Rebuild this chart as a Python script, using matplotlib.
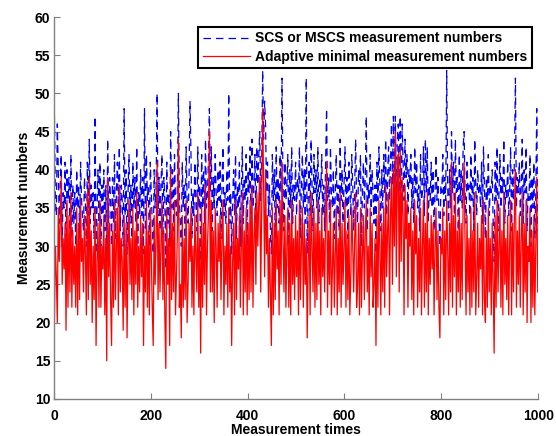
import numpy as np
import matplotlib

matplotlib.use("Agg")
import matplotlib.pyplot as plt

# measurement index (every second sample of the 1000 runs)
times = np.arange(1, 1000, 2)

adaptive_numbers = [
    20, 30, 26, 20, 35, 28, 33, 39, 25, 31,
    27, 33, 19, 36, 22, 34, 24, 37, 22, 32,
    25, 30, 22, 35, 21, 33, 23, 36, 28, 31,
    24, 34, 29, 21, 37, 23, 39, 25, 32, 20,
    30, 23, 35, 17, 28, 33, 22, 36, 22, 30,
    27, 34, 21, 31, 15, 39, 26, 33, 23, 17,
    32, 22, 36, 23, 30, 35, 21, 38, 24, 31,
    28, 19, 34, 22, 33, 18, 29, 36, 25, 31,
    23, 35, 21, 32, 25, 37, 22, 30, 24, 34,
    26, 33, 17, 30, 24, 36, 22, 32, 21, 35,
    29, 22, 17, 34, 25, 31, 41, 23, 33, 24,
    30, 36, 23, 32, 21, 14, 35, 25, 31, 17,
    40, 23, 33, 24, 36, 21, 26, 32, 44, 22,
    25, 18, 34, 22, 31, 23, 36, 20, 25, 33,
    28, 35, 22, 30, 21, 34, 29, 24, 37, 22,
    31, 16, 35, 22, 33, 25, 38, 21, 30, 34,
    45, 24, 36, 24, 32, 20, 35, 30, 22, 33,
    28, 34, 23, 31, 36, 21, 30, 25, 33, 22,
    35, 24, 30, 17, 28, 33, 21, 36, 23, 31,
    27, 34, 22, 30, 37, 21, 32, 24, 35, 21,
    33, 23, 36, 24, 38, 22, 31, 35, 25, 37,
    30, 36, 39, 24, 35, 48, 38, 26, 40, 29,
    34, 22, 31, 24, 17, 35, 21, 33, 23, 36,
    27, 32, 21, 36, 25, 41, 31, 24, 34, 22,
    30, 35, 22, 33, 21, 36, 25, 31, 23, 34,
    26, 32, 21, 36, 23, 30, 35, 22, 33, 25,
    31, 18, 28, 34, 21, 37, 30, 24, 35, 22,
    33, 23, 36, 25, 32, 21, 35, 26, 31, 24,
    34, 41, 22, 32, 25, 36, 21, 27, 33, 22,
    29, 35, 21, 31, 24, 37, 22, 33, 25, 30,
    36, 22, 32, 23, 34, 21, 26, 35, 30, 24,
    31, 37, 22, 25, 33, 21, 35, 22, 29, 34,
    23, 32, 36, 24, 30, 21, 35, 26, 33, 22,
    25, 31, 17, 34, 22, 36, 30, 21, 33, 24,
    35, 22, 38, 26, 32, 37, 21, 34, 39, 25,
    40, 30, 45, 26, 38, 42, 24, 43, 28, 39,
    34, 21, 38, 31, 36, 22, 33, 30, 35, 23,
    32, 21, 36, 29, 34, 22, 31, 24, 35, 21,
    30, 36, 22, 33, 24, 37, 21, 31, 25, 34,
    27, 33, 21, 30, 35, 23, 32, 22, 18, 31,
    29, 35, 21, 32, 23, 36, 30, 21, 33, 24,
    41, 22, 34, 26, 37, 21, 32, 24, 35, 22,
    33, 23, 36, 41, 30, 21, 34, 24, 31, 21,
    35, 22, 32, 24, 37, 21, 26, 33, 22, 31,
    27, 34, 21, 36, 23, 20, 32, 22, 35, 24,
    31, 21, 33, 25, 16, 34, 22, 36, 24, 30,
    35, 22, 32, 21, 37, 25, 31, 23, 34, 21,
    30, 36, 21, 33, 24, 35, 40, 22, 32, 25,
    34, 22, 31, 37, 21, 33, 24, 36, 20, 30,
    28, 35, 20, 32, 22, 34, 21, 30, 39, 24,
]

scs_numbers = [
    47, 36, 34, 46, 40, 33, 38, 42, 30, 37,
    35, 41, 29, 40, 36, 39, 32, 42, 31, 38,
    33, 37, 30, 40, 35, 38, 31, 41, 36, 34,
    32, 39, 36, 30, 41, 34, 44, 33, 38, 35,
    37, 31, 47, 29, 35, 40, 33, 41, 30, 38,
    34, 40, 32, 38, 28, 44, 33, 39, 36, 30,
    39, 33, 42, 31, 37, 41, 35, 43, 32, 38,
    36, 30, 48, 34, 40, 29, 37, 42, 33, 38,
    31, 41, 35, 39, 33, 43, 30, 37, 34, 40,
    34, 39, 29, 48, 32, 42, 36, 38, 30, 41,
    37, 33, 29, 40, 35, 38, 50, 34, 39, 32,
    38, 42, 31, 39, 36, 27, 41, 33, 37, 30,
    45, 35, 40, 32, 42, 36, 34, 38, 50, 36,
    33, 30, 41, 35, 38, 31, 43, 36, 33, 39,
    49, 42, 31, 37, 34, 41, 36, 32, 43, 35,
    38, 28, 42, 35, 40, 33, 44, 35, 37, 41,
    48, 37, 43, 32, 39, 35, 42, 37, 34, 40,
    36, 41, 31, 38, 43, 34, 37, 33, 40, 36,
    50, 33, 37, 29, 36, 40, 34, 42, 31, 38,
    35, 41, 30, 37, 43, 33, 39, 36, 42, 30,
    40, 37, 43, 32, 44, 35, 38, 42, 33, 43,
    38, 42, 45, 36, 41, 53, 44, 49, 46, 37,
    41, 34, 38, 32, 29, 42, 36, 40, 31, 43,
    35, 39, 33, 42, 37, 52, 38, 32, 41, 36,
    38, 42, 30, 40, 35, 43, 33, 38, 36, 41,
    34, 39, 37, 43, 31, 38, 42, 35, 40, 33,
    52, 29, 36, 41, 34, 44, 38, 32, 42, 37,
    40, 35, 43, 33, 39, 37, 42, 34, 38, 32,
    41, 48, 36, 39, 33, 43, 37, 35, 40, 31,
    37, 42, 34, 38, 32, 44, 36, 40, 33, 38,
    43, 35, 39, 31, 41, 37, 34, 42, 38, 32,
    38, 44, 36, 33, 40, 38, 42, 30, 37, 41,
    35, 39, 47, 32, 38, 36, 42, 34, 40, 37,
    33, 38, 29, 41, 36, 43, 38, 32, 40, 35,
    42, 37, 44, 34, 39, 43, 36, 41, 46, 38,
    47, 38, 47, 35, 44, 46, 37, 47, 34, 46,
    41, 36, 44, 39, 42, 34, 40, 38, 42, 35,
    39, 33, 43, 37, 41, 35, 38, 32, 42, 36,
    37, 43, 34, 44, 37, 43, 33, 38, 36, 41,
    35, 40, 32, 37, 42, 36, 39, 34, 30, 38,
    37, 42, 34, 39, 36, 53, 38, 33, 40, 35,
    45, 37, 41, 34, 44, 37, 39, 32, 42, 36,
    40, 35, 43, 45, 37, 33, 41, 37, 38, 34,
    42, 36, 39, 32, 44, 38, 34, 40, 37, 38,
    35, 41, 33, 43, 38, 31, 39, 36, 42, 34,
    38, 37, 40, 33, 28, 41, 36, 43, 32, 37,
    42, 35, 39, 37, 44, 33, 38, 36, 41, 34,
    37, 43, 32, 40, 36, 42, 52, 35, 39, 37,
    41, 34, 38, 44, 33, 40, 37, 43, 32, 37,
    36, 42, 30, 39, 35, 41, 31, 37, 48, 32,
]

plt.rcParams["font.family"] = ["Liberation Sans", "DejaVu Sans"]
plt.rcParams["font.weight"] = "bold"

fig = plt.figure(figsize=(5.56, 4.36), dpi=100)
ax = fig.add_axes([0.097, 0.085, 0.871, 0.876])

ax.plot(times, scs_numbers, color="#0000ff", linestyle=(0, (6, 4)), linewidth=0.9,
        label="SCS or MSCS measurement numbers")
ax.plot(times, adaptive_numbers, color="#ff0000", linewidth=0.9,
        label="Adaptive minimal measurement numbers")

ax.set_xlim(0, 1000)
ax.set_ylim(10, 60)
ax.set_xticks(range(0, 1001, 200))
ax.set_yticks(range(10, 61, 5))
ax.set_xlabel("Measurement times", fontsize=10, fontweight="bold", labelpad=0)
ax.set_ylabel("Measurement numbers", fontsize=10, fontweight="bold", labelpad=3)
ax.tick_params(direction="in", length=4, color="#808080", labelsize=10)
ax.tick_params(axis="x", pad=7)
ax.tick_params(axis="y", pad=2.5)
for name in ("top", "right"):
    ax.spines[name].set_visible(False)
for name in ("left", "bottom"):
    ax.spines[name].set_color("#808080")
    ax.spines[name].set_linewidth(1.0)

leg = ax.legend(loc="upper right", bbox_to_anchor=(0.988, 0.975), fontsize=10,
                fancybox=False, framealpha=1, edgecolor="black",
                handlelength=3.4, borderpad=0.35, labelspacing=0.3,
                handletextpad=0.4, borderaxespad=0)
leg.get_frame().set_linewidth(1.5)

fig.savefig("out.png", dpi=100)
